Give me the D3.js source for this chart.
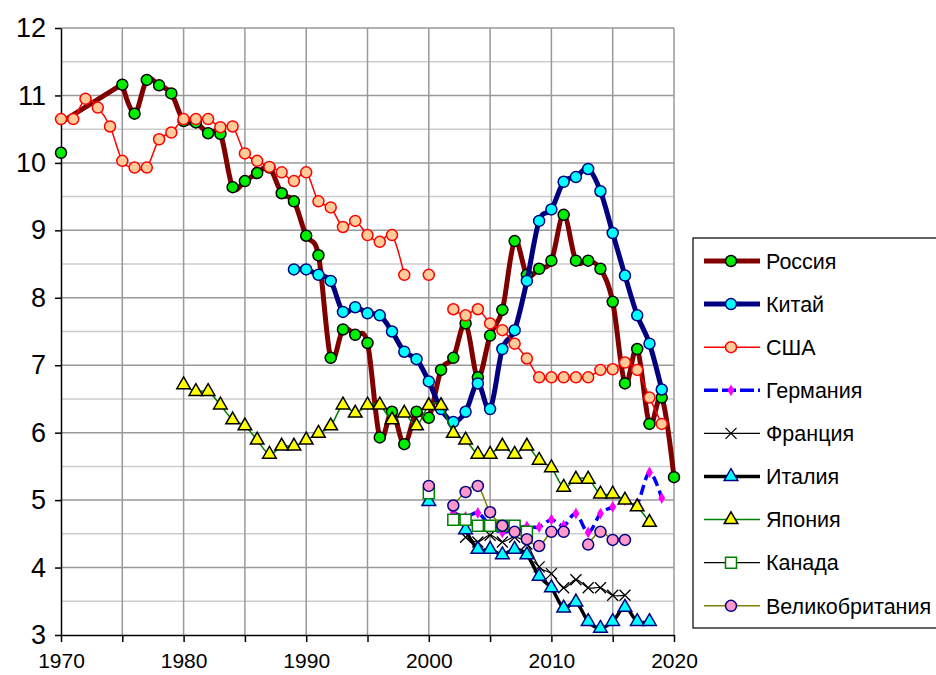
<!DOCTYPE html>
<html>
<head>
<meta charset="utf-8">
<script src="https://cdn.jsdelivr.net/npm/d3@7"></script>
<style>
body { margin: 0; background: #fff; }
text { font-family: Arial, "Liberation Sans", sans-serif; fill: #000; }
</style>
</head>
<body>
<svg id="chart" width="936" height="675"></svg>
<script>
// years 1970..2020, one value per year (null = no data)
var years = d3.range(1970, 2021);

var russia = [10.15, null, null, null, null, 11.16, 10.73, 11.23, 11.15, 11.03,
  10.62, 10.6, 10.44, 10.43, 9.64, 9.73, 9.85, 9.93, 9.55, 9.43,
  8.92, 8.63, 7.11, 7.53, 7.45, 7.33, 5.93, 6.31, 5.83, 6.31,
  6.22, 6.93, 7.11, 7.62, 6.82, 7.44, 7.82, 8.84, 8.34, 8.43,
  8.55, 9.23, 8.55, 8.55, 8.43, 7.94, 6.73, 7.24, 6.13, 6.52,
  5.34];
var russiaEarly = [[1970, 10.6], [1975.3, 11.2]];

var china = [null, null, null, null, null, null, null, null, null, null,
  null, null, null, null, null, null, null, null, null, 8.42,
  8.42, 8.34, 8.25, 7.79, 7.86, 7.77, 7.74, 7.5, 7.2, 7.09,
  6.76, 6.35, 6.16, 6.31, 6.73, 6.35, 7.24, 7.52, 8.25, 9.14,
  9.31, 9.72, 9.79, 9.91, 9.58, 8.96, 8.33, 7.74, 7.32, 6.64,
  null];

var usa = [10.65, 10.65, 10.95, 10.82, 10.54, 10.03, 9.93, 9.93, 10.35, 10.45,
  10.65, 10.65, 10.65, 10.53, 10.54, 10.14, 10.03, 9.94, 9.86, 9.73,
  9.86, 9.43, 9.34, 9.05, 9.14, 8.93, 8.83, 8.93, 8.34, null,
  8.34, null, 7.83, 7.74, 7.83, 7.62, 7.52, 7.32, 7.1, 6.82,
  6.82, 6.82, 6.82, 6.82, 6.93, 6.94, 7.04, 6.93, 6.52, 6.13,
  null];

var germany = [null, null, null, null, null, null, null, null, null, null,
  null, null, null, null, null, null, null, null, null, null,
  null, null, null, null, null, null, null, null, null, null,
  null, null, 4.82, 4.75, 4.81, 4.62, 4.52, 4.58, 4.61, 4.6,
  4.71, 4.62, 4.8, 4.52, 4.8, 4.9, 5.0, 4.95, 5.41, 5.03,
  null];

var france = [null, null, null, null, null, null, null, null, null, null,
  null, null, null, null, null, null, null, null, null, null,
  null, null, null, null, null, null, null, null, null, null,
  null, null, null, 4.45, 4.38, 4.48, 4.38, 4.45, 4.35, 4.01,
  3.91, 3.7, 3.82, 3.7, 3.7, 3.59, 3.59, null, null, null,
  null];

var italy = [null, null, null, null, null, null, null, null, null, null,
  null, null, null, null, null, null, null, null, null, null,
  null, null, null, null, null, null, null, null, null, null,
  4.98, null, null, 4.56, 4.27, 4.27, 4.19, 4.27, 4.19, 3.87,
  3.7, 3.4, 3.49, 3.2, 3.1, 3.2, 3.41, 3.2, 3.2, null,
  null];

var japan = [null, null, null, null, null, null, null, null, null, null,
  6.71, 6.61, 6.61, 6.41, 6.19, 6.1, 5.89, 5.68, 5.8, 5.8,
  5.89, 5.99, 6.1, 6.41, 6.29, 6.41, 6.41, 6.19, 6.29, 6.1,
  6.4, 6.4, 5.99, 5.89, 5.68, 5.68, 5.8, 5.68, 5.8, 5.59,
  5.48, 5.19, 5.31, 5.31, 5.09, 5.09, 5.0, 4.9, 4.67, null,
  null];

var canada = [null, null, null, null, null, null, null, null, null, null,
  null, null, null, null, null, null, null, null, null, null,
  null, null, null, null, null, null, null, null, null, null,
  5.1, null, 4.71, 4.71, 4.62, 4.62, 4.62, 4.62, 4.53, null,
  null, null, null, null, null, null, null, null, null, null,
  null];

var uk = [null, null, null, null, null, null, null, null, null, null,
  null, null, null, null, null, null, null, null, null, null,
  null, null, null, null, null, null, null, null, null, null,
  5.21, null, 4.92, 5.12, 5.21, 4.82, 4.62, 4.53, 4.42, 4.32,
  4.53, 4.53, null, 4.34, 4.53, 4.41, 4.41, null, null, null,
  null];

var yTicks = [3, 4, 5, 6, 7, 8, 9, 10, 11, 12];
var xTicks = [1970, 1975, 1980, 1985, 1990, 1995, 2000, 2005, 2010, 2015, 2020];

var series = [
  {name: "Россия", values: russia, color: "#800000", width: 5, marker: "circle", fill: "#00ee00", mstroke: "#000"},
  {name: "Китай", values: china, color: "#000080", width: 5, marker: "circle", fill: "#00ffff", mstroke: "#000080"},
  {name: "США", values: usa, color: "#ff0000", width: 1.5, marker: "circle", fill: "#ffcc99", mstroke: "#ff0000"},
  {name: "Германия", values: germany, color: "#0000ff", width: 3.5, dash: "10,5", marker: "diamond", fill: "#ff00ff", mstroke: "none"},
  {name: "Франция", values: france, color: "#000", width: 1.2, marker: "x", fill: "none", mstroke: "#000"},
  {name: "Италия", values: italy, color: "#000", width: 3.5, marker: "triangle", fill: "#00ffff", mstroke: "#000080"},
  {name: "Япония", values: japan, color: "#008000", width: 1.5, marker: "triangle", fill: "#ffff00", mstroke: "#000"},
  {name: "Канада", values: canada, color: "#000", width: 1.2, marker: "square", fill: "#fff", mstroke: "#008000"},
  {name: "Великобритания", values: uk, color: "#808000", width: 1.5, marker: "circle", fill: "#ff99cc", mstroke: "#000080"}
];

var svg = d3.select("#chart");
var x = d3.scaleLinear().domain([1970, 2020]).range([61, 674]);
var y = d3.scaleLinear().domain([3, 12]).range([635, 28]);

// grid
svg.append("g").selectAll("line")
  .data(d3.range(3.5, 12, 1))
  .join("line")
  .attr("x1", x(1970)).attr("x2", x(2020))
  .attr("y1", d => y(d)).attr("y2", d => y(d))
  .attr("stroke", "#cccccc").attr("stroke-width", 1.5);
svg.append("g").selectAll("line")
  .data(yTicks.slice(1))
  .join("line")
  .attr("x1", x(1970)).attr("x2", x(2020))
  .attr("y1", d => y(d)).attr("y2", d => y(d))
  .attr("stroke", "#999999").attr("stroke-width", 1.5);
svg.append("g").selectAll("line")
  .data(xTicks.slice(1))
  .join("line")
  .attr("x1", d => x(d)).attr("x2", d => x(d))
  .attr("y1", y(3)).attr("y2", y(12))
  .attr("stroke", "#999999").attr("stroke-width", 1.5);

// axes
var yAxis = svg.append("g")
  .attr("transform", "translate(" + x(1970) + ",0)")
  .call(d3.axisLeft(y).tickValues(yTicks).tickSize(6).tickPadding(9).tickSizeOuter(0));
yAxis.selectAll("text").style("font-size", "27px");
var xAxis = svg.append("g")
  .attr("transform", "translate(0," + y(3) + ")")
  .call(d3.axisBottom(x).tickValues(xTicks).tickSize(7).tickPadding(11).tickSizeOuter(0)
    .tickFormat(d => d % 10 === 0 ? d : ""));
xAxis.selectAll("text").style("font-size", "21px");
svg.selectAll(".domain, .tick line").attr("stroke", "#000").attr("stroke-width", 1.5);

function markerPath(type) {
  if (type === "triangle") return d3.symbol(d3.symbolTriangle, 80)();
  if (type === "diamond") return d3.symbol(d3.symbolDiamond, 40)();
  if (type === "square") return "M-5.5,-5.5H5.5V5.5H-5.5Z";
  if (type === "x") return "M-5.5,-5.5L5.5,5.5M-5.5,5.5L5.5,-5.5";
  return null;
}

function drawMarker(g, s, px, py) {
  if (s.marker === "circle") {
    g.append("circle").attr("cx", px).attr("cy", py).attr("r", 5.5)
      .attr("fill", s.fill).attr("stroke", s.mstroke).attr("stroke-width", 1.5);
  } else {
    g.append("path").attr("d", markerPath(s.marker))
      .attr("transform", "translate(" + px + "," + py + ")")
      .attr("fill", s.fill).attr("stroke", s.mstroke)
      .attr("stroke-width", s.marker === "x" ? 1.3 : 1.5);
  }
}

var line = d3.line()
  .defined(d => d[1] !== null)
  .x(d => x(d[0])).y(d => y(d[1]))
  .curve(d3.curveCatmullRom.alpha(0));

var plot = svg.append("g");
series.forEach(function(s, i) {
  var pts = years.map((yr, k) => [yr, s.values[k]]);
  var g = plot.append("g");
  if (i === 0) {
    g.append("path").datum(russiaEarly).attr("d", d3.line().x(d => x(d[0])).y(d => y(d[1])))
      .attr("fill", "none").attr("stroke", s.color).attr("stroke-width", s.width);
  }
  g.append("path").datum(pts).attr("d", line)
    .attr("fill", "none").attr("stroke", s.color).attr("stroke-width", s.width)
    .attr("stroke-dasharray", s.dash || null).attr("stroke-linejoin", "round");
  pts.filter(d => d[1] !== null).forEach(function(d) {
    drawMarker(g, s, x(d[0]), y(d[1]));
  });
});

// legend
var lg = svg.append("g");
lg.append("rect").attr("x", 693).attr("y", 238).attr("width", 260).attr("height", 390)
  .attr("fill", "#fff").attr("stroke", "#000").attr("stroke-width", 1.2);
series.forEach(function(s, i) {
  var ly = 261 + i * 43.1;
  var g = lg.append("g");
  g.append("line").attr("x1", 704).attr("x2", 760).attr("y1", ly).attr("y2", ly)
    .attr("stroke", s.color).attr("stroke-width", s.width)
    .attr("stroke-dasharray", s.dash ? "14,4" : null);
  drawMarker(g, s, 731, ly);
  g.append("text").attr("x", 766).attr("y", ly).attr("dy", "0.36em")
    .style("font-size", "21.5px").text(s.name);
});
</script>
</body>
</html>
